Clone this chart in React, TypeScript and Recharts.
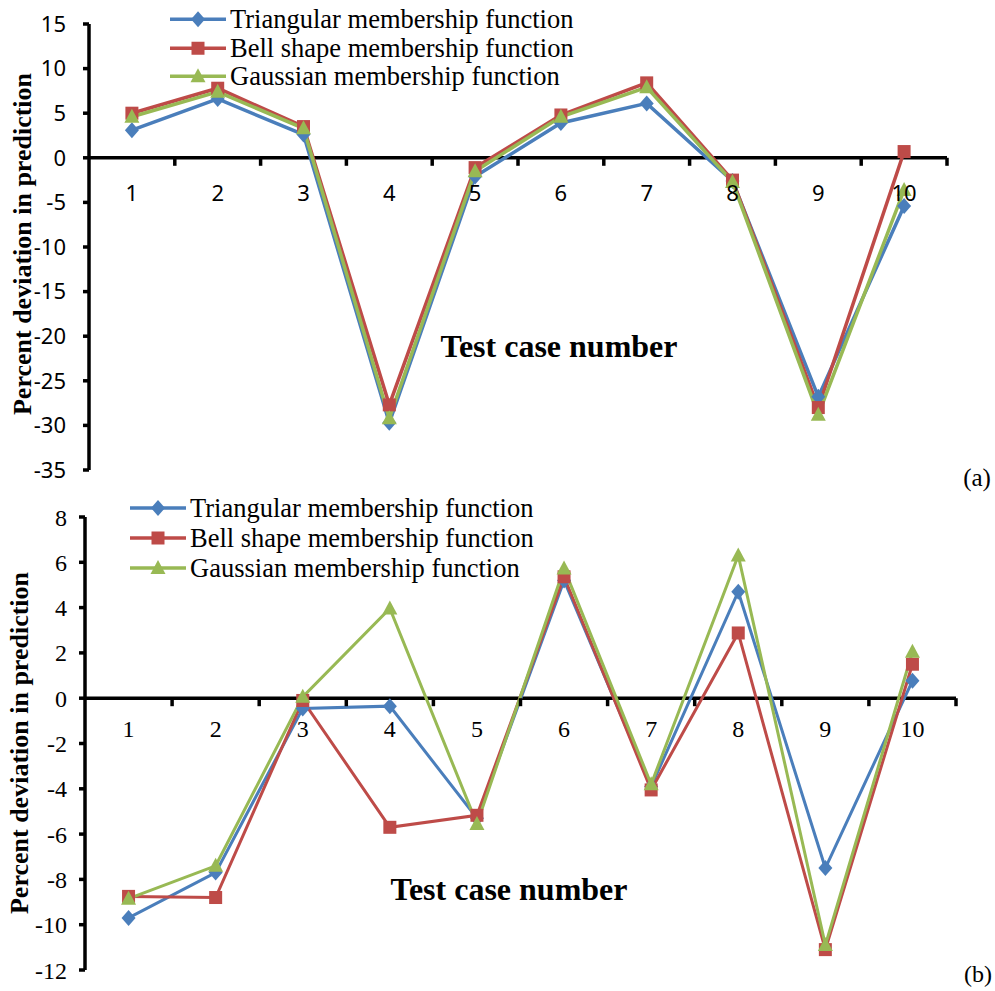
import React from 'react';
import { LineChart, Line, XAxis, YAxis, ReferenceLine, Legend } from 'recharts';

// ---------- data ----------
const CASES = [1, 2, 3, 4, 5, 6, 7, 8, 9, 10];
const SERIES_NAMES = [
  'Triangular membership function',
  'Bell shape membership function',
  'Gaussian membership function',
];

// chart (a)
const A_TRI = [3.1, 6.6, 2.6, -29.7, -2.1, 3.9, 6.1, -2.6, -26.8, -5.4];
const A_BELL = [5.0, 7.8, 3.5, -27.7, -1.1, 4.8, 8.4, -2.5, -28.0, 0.7];
const A_GAUSS = [4.6, 7.4, 3.3, -29.2, -1.5, 4.6, 7.9, -2.7, -28.8, -3.6];
const A_Y_TICKS = [-35, -30, -25, -20, -15, -10, -5, 0, 5, 10, 15];

// chart (b)
const B_TRI = [-9.7, -7.7, -0.45, -0.35, -5.3, 5.2, -3.9, 4.7, -7.5, 0.77];
const B_BELL = [-8.75, -8.8, -0.1, -5.7, -5.17, 5.36, -4.05, 2.88, -11.1, 1.5];
const B_GAUSS = [-8.85, -7.4, 0.06, 3.96, -5.55, 5.73, -3.8, 6.3, -10.9, 2.05];
const B_Y_TICKS = [-12, -10, -8, -6, -4, -2, 0, 2, 4, 6, 8];

// category centres and category boundaries on the x axis
const X_TICKS = [1, 1.5, 2, 2.5, 3, 3.5, 4, 4.5, 5, 5.5, 6, 6.5, 7, 7.5, 8, 8.5, 9, 9.5, 10, 10.5];

const build = (tri: number[], bell: number[], gauss: number[]) =>
  CASES.map((c, i) => ({ case: c, tri: tri[i], bell: bell[i], gauss: gauss[i] }));

const DATA_A = build(A_TRI, A_BELL, A_GAUSS);
const DATA_B = build(B_TRI, B_BELL, B_GAUSS);

// ---------- styles ----------
const SERIF = '"Liberation Serif", "Times New Roman", serif';
const SANS = '"Noto Sans", "Open Sans", sans-serif';

const SERIES = [
  { key: 'tri', name: SERIES_NAMES[0], color: '#4A7EBB', shape: 'diamond' },
  { key: 'bell', name: SERIES_NAMES[1], color: '#BE4B48', shape: 'square' },
  { key: 'gauss', name: SERIES_NAMES[2], color: '#98B954', shape: 'triangle' },
];

const Marker = ({ shape, cx, cy, color }: { shape: string; cx: number; cy: number; color: string }) => {
  if (cx == null || cy == null || isNaN(cx) || isNaN(cy)) return null;
  if (shape === 'diamond') {
    return <path d={`M${cx},${cy - 8} L${cx + 7},${cy} L${cx},${cy + 8} L${cx - 7},${cy} Z`} fill={color} />;
  }
  if (shape === 'square') {
    return <rect x={cx - 6.5} y={cy - 6.5} width={13} height={13} fill={color} />;
  }
  return <path d={`M${cx},${cy - 8} L${cx + 7.5},${cy + 6} L${cx - 7.5},${cy + 6} Z`} fill={color} />;
};

type Cfg = {
  height: number;
  top: number;
  margin: { top: number; right: number; bottom: number; left: number };
  yAxisWidth: number;
  yDomain: [number, number];
  yTicks: number[];
  tickFont: string;
  tickFontSize: number;
  yTickMargin: number;
  catOffset: number;
  lineWidth: number;
  legendLeft: number;
  legendTop: number;
  legendRow: number;
  data: any[];
};

const X_AXIS_H = 1;

const CatTick = (props: any) => {
  const { x, y, payload, zeroShift, font, fontSize, catOffset } = props;
  const zeroY = y - zeroShift;
  const v = payload.value;
  if (Number.isInteger(v)) {
    return (
      <text x={x} y={zeroY + catOffset} textAnchor="middle" dominantBaseline="central"
        fontFamily={font} fontSize={fontSize} fill="#000">
        {v}
      </text>
    );
  }
  return <line x1={x} x2={x} y1={zeroY} y2={zeroY + 8} stroke="#000" strokeWidth={3.5} />;
};

const LegendBox = ({ row }: { row: number }) => (
  <div>
    {SERIES.map((s) => (
      <div key={s.key} style={{ display: 'flex', alignItems: 'center', height: row }}>
        <svg width={58} height={row} style={{ display: 'block' }}>
          <line x1={0} x2={56} y1={row / 2} y2={row / 2} stroke={s.color} strokeWidth={3.5} />
          <Marker shape={s.shape} cx={28} cy={row / 2} color={s.color} />
        </svg>
        <span style={{ fontFamily: SERIF, fontSize: 26.5, lineHeight: `${row}px`, marginLeft: 2, color: '#000', whiteSpace: 'nowrap' }}>
          {s.name}
        </span>
      </div>
    ))}
  </div>
);

const Panel = ({ cfg }: { cfg: Cfg }) => {
  const plotH = cfg.height - cfg.margin.top - cfg.margin.bottom - X_AXIS_H;
  const [yMin, yMax] = cfg.yDomain;
  const zeroShift = (plotH * (0 - yMin)) / (yMax - yMin);
  return (
    <div style={{ position: 'absolute', left: 0, top: cfg.top }}>
      <LineChart width={995} height={cfg.height} data={cfg.data} margin={cfg.margin}>
        <XAxis
          dataKey="case"
          type="number"
          domain={[0.5, 10.5]}
          ticks={X_TICKS}
          interval={0}
          axisLine={false}
          tickLine={false}
          tickSize={0}
          tickMargin={0}
          height={X_AXIS_H}
          allowDataOverflow
          tick={(p: any) => (
            <CatTick {...p} zeroShift={zeroShift} font={cfg.tickFont} fontSize={cfg.tickFontSize} catOffset={cfg.catOffset} />
          )}
        />
        <YAxis
          type="number"
          domain={cfg.yDomain}
          ticks={cfg.yTicks}
          interval={0}
          width={cfg.yAxisWidth}
          axisLine={{ stroke: '#000', strokeWidth: 3.5 }}
          tickLine={{ stroke: '#000', strokeWidth: 3.5 }}
          tickSize={6}
          tickMargin={cfg.yTickMargin}
          tick={{ fontFamily: cfg.tickFont, fontSize: cfg.tickFontSize, fill: '#000' }}
          allowDataOverflow
        />
        <ReferenceLine y={0} stroke="#000" strokeWidth={3.5} />
        <Legend
          layout="vertical"
          align="center"
          verticalAlign="middle"
          wrapperStyle={{ left: cfg.legendLeft, top: cfg.legendTop, width: 'auto', height: 'auto' }}
          content={() => <LegendBox row={cfg.legendRow} />}
        />
        {SERIES.map((s) => (
          <Line
            key={s.key}
            type="linear"
            dataKey={s.key}
            name={s.name}
            stroke={s.color}
            strokeWidth={cfg.lineWidth}
            isAnimationActive={false}
            activeDot={false}
            dot={(p: any) => (
              <Marker key={`${s.key}-${p.index}`} shape={s.shape} cx={p.cx} cy={p.cy} color={s.color} />
            )}
          />
        ))}
      </LineChart>
    </div>
  );
};

const CFG_A: Cfg = {
  height: 495,
  top: 0,
  margin: { top: 24, right: 48, bottom: 24, left: 0 },
  yAxisWidth: 89,
  yDomain: [-35, 15],
  yTicks: A_Y_TICKS,
  tickFont: SANS,
  tickFontSize: 22,
  yTickMargin: 17,
  catOffset: 34,
  lineWidth: 3.5,
  legendLeft: 170,
  legendTop: 5,
  legendRow: 28.5,
  data: DATA_A,
};

const CFG_B: Cfg = {
  height: 496,
  top: 495,
  margin: { top: 22, right: 39, bottom: 20, left: 0 },
  yAxisWidth: 85,
  yDomain: [-12, 8],
  yTicks: B_Y_TICKS,
  tickFont: SERIF,
  tickFontSize: 24,
  yTickMargin: 12,
  catOffset: 31,
  lineWidth: 3,
  legendLeft: 130,
  legendTop: -2,
  legendRow: 30,
  data: DATA_B,
};

export default function App() {
  return (
    <div style={{ position: 'absolute', left: 0, top: 0, width: 995, height: 991, background: '#fff', overflow: 'hidden' }}>
      <Panel cfg={CFG_A} />
      <Panel cfg={CFG_B} />
      <svg width={995} height={991} style={{ position: 'absolute', left: 0, top: 0, pointerEvents: 'none' }}>
        <text transform="translate(31,244) rotate(-90)" textAnchor="middle" fontFamily={SERIF} fontWeight="bold" fontSize={26} fill="#000">
          Percent deviation in prediction
        </text>
        <text transform="translate(28,743) rotate(-90)" textAnchor="middle" fontFamily={SERIF} fontWeight="bold" fontSize={26} fill="#000">
          Percent deviation in prediction
        </text>
        <text x={559} y={357} textAnchor="middle" fontFamily={SERIF} fontWeight="bold" fontSize={32} fill="#000">
          Test case number
        </text>
        <text x={509} y={900} textAnchor="middle" fontFamily={SERIF} fontWeight="bold" fontSize={32} fill="#000">
          Test case number
        </text>
        <text x={977} y={486} textAnchor="middle" fontFamily={SERIF} fontSize={25} fill="#000">(a)</text>
        <text x={978} y={982} textAnchor="middle" fontFamily={SERIF} fontSize={24} fill="#000">(b)</text>
      </svg>
    </div>
  );
}
